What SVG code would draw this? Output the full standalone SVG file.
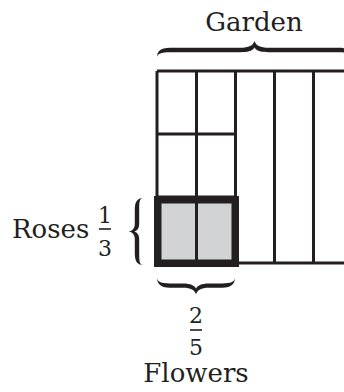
<svg xmlns="http://www.w3.org/2000/svg" width="344" height="392" viewBox="0 0 344 392">
<style>
.t{font-family:"DejaVu Serif","Liberation Serif",serif;fill:#231f20;}
.big{font-size:26px;}
.fr{font-size:22px;}
.ln{stroke:#231f20;stroke-width:3;fill:none;}
.bar{stroke:#231f20;stroke-width:1.6;fill:none;}
.br{fill:#231f20;}
</style>
<rect width="344" height="392" fill="#ffffff"/>
<g id="garden-grid">
<path class="ln" d="M157,71 H352 M157,71 V263 M196.5,71 V200 M235.5,71 V263 M274.5,71 V263 M313.5,71 V263 M352,71 V263 M157,134 H235.5 M157,197 H235.5 M235.5,263 H352"/>
</g>
<g id="roses-box">
<rect x="157.75" y="199.75" width="77.5" height="63.5" fill="#d1d3d4" stroke="#231f20" stroke-width="7.5"/>
<path class="ln" d="M196.5,199.5 V263.5"/>
</g>
<g id="connectors">
<path class="br" d="M157,58 C157,51.5 160,47.8 170,47.8 L240,47.8 C249,47.8 253,45.5 254.5,41 C256,45.5 260,47.8 269,47.8 L339,47.8 C349,47.8 352,51.5 352,58 C352,53.5 348,52.2 339,52.2 L269,52.2 C260,52.2 256,50.5 254.5,47.5 C253,50.5 249,52.2 240,52.2 L170,52.2 C161,52.2 157,53.5 157,58 Z"/>
<path class="br" d="M144,198 C137.5,198 134.8,201 134.8,210 L134.8,224 C134.8,228 132.5,231 128.5,231.5 C132.5,232 134.8,235 134.8,239 L134.8,253 C134.8,262 137.5,265 144,265 C139.5,265 139.2,262 139.2,253 L139.2,239 C139.2,235 137.5,232.5 134.5,231.5 C137.5,230.5 139.2,228 139.2,224 L139.2,210 C139.2,201 139.5,198 144,198 Z"/>
<path class="br" d="M157,277 C157,283.5 160,287.8 170,287.8 L183,287.8 C191,287.8 194.5,290 196,294.5 C197.5,290 201,287.8 209,287.8 L222,287.8 C232,287.8 235,283.5 235,277 C235,282 231,283.4 222,283.4 L209,283.4 C201,283.4 197.5,285.5 196,288.5 C194.5,285.5 191,283.4 183,283.4 L170,283.4 C161,283.4 157,282 157,277 Z"/>
</g>
<g id="garden-label">
<text class="t big" x="254" y="31" text-anchor="middle">Garden</text>
</g>
<g id="roses-label">
<text class="t big" x="12" y="238">Roses</text>
<text class="t fr" x="105" y="223" text-anchor="middle">1</text>
<path class="bar" d="M99,229 H111"/>
<text class="t fr" x="105" y="256" text-anchor="middle">3</text>
</g>
<g id="flowers-label">
<text class="t fr" x="196" y="323" text-anchor="middle">2</text>
<path class="bar" d="M190,330 H202"/>
<text class="t fr" x="196" y="355" text-anchor="middle">5</text>
<text class="t big" x="196" y="382" text-anchor="middle">Flowers</text>
</g>
</svg>
